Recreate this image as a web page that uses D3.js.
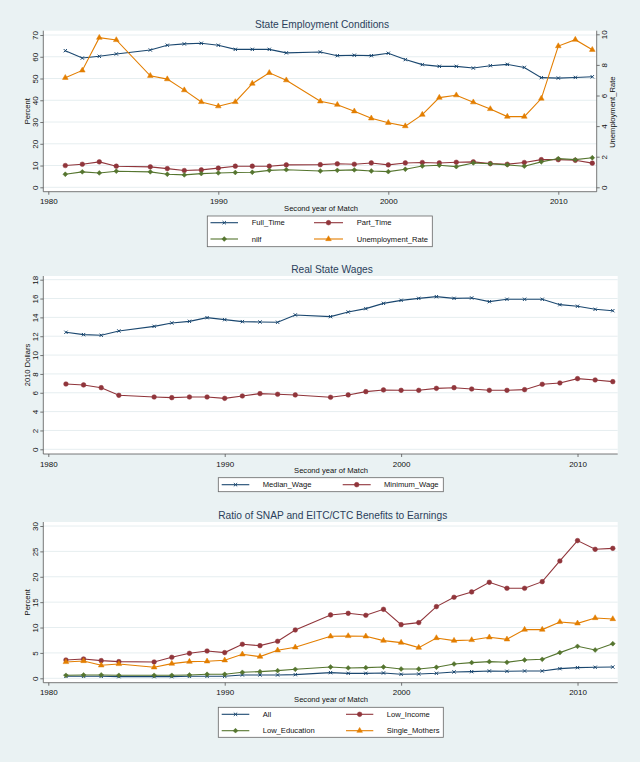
<!DOCTYPE html>
<html>
<head>
<meta charset="utf-8">
<script src="https://cdn.jsdelivr.net/npm/d3@7"></script>
<style>
  body { margin: 0; background: #eaf2f3; }
  svg { display: block; font-family: "Liberation Sans", Arial, sans-serif; }
</style>
</head>
<body>
<svg id="chart" width="640" height="762"></svg>
<script>
// Survey years (no 1985, no 1995).
const years = [1981, 1982, 1983, 1984, 1986, 1987, 1988, 1989, 1990, 1991, 1992, 1993, 1994,
  1996, 1997, 1998, 1999, 2000, 2001, 2002, 2003, 2004, 2005, 2006, 2007, 2008, 2009, 2010, 2011, 2012];
const xTicks = [1980, 1990, 2000, 2010];

// Panel 1 — employment conditions (percent, unemployment on right axis)
const fullTime = [62.8, 59.4, 60.2, 61.3, 63.1, 65.3, 65.9, 66.2, 65.3, 63.4, 63.4, 63.4, 61.8,
  62.2, 60.5, 60.7, 60.5, 61.6, 58.7, 56.4, 55.6, 55.6, 54.8, 55.9, 56.5, 55.1, 50.4, 50.2, 50.5, 50.8];
const partTime = [10.0, 10.6, 11.7, 9.7, 9.4, 8.6, 7.7, 8.0, 8.8, 9.7, 9.7, 9.7, 10.3,
  10.4, 10.8, 10.6, 11.2, 10.3, 11.2, 11.4, 11.2, 11.5, 11.7, 10.9, 10.6, 11.4, 12.7, 12.7, 12.4, 11.1];
const nilf = [6.0, 7.1, 6.6, 7.4, 7.1, 6.0, 5.7, 6.3, 6.6, 6.8, 6.9, 7.8, 8.1,
  7.5, 7.8, 8.0, 7.5, 7.2, 8.3, 9.8, 10.1, 9.5, 11.2, 10.8, 10.3, 9.7, 11.7, 13.2, 12.7, 13.6];
const unempRate = [7.16, 7.64, 9.78, 9.63, 7.29, 7.07, 6.35, 5.58, 5.30, 5.58, 6.78, 7.48, 7.00,
  5.62, 5.40, 4.97, 4.51, 4.22, 4.00, 4.75, 5.86, 6.02, 5.56, 5.12, 4.62, 4.62, 5.80, 9.23, 9.65, 8.99];
const empTicks = [0, 10, 20, 30, 40, 50, 60, 70];
const unempTicks = [0, 2, 4, 6, 8, 10];

// Panel 2 — real wages (2010 dollars)
const medianWage = [12.42, 12.17, 12.10, 12.56, 13.05, 13.41, 13.58, 13.97, 13.76, 13.55, 13.51, 13.48, 14.26,
  14.08, 14.57, 14.93, 15.49, 15.81, 16.02, 16.20, 16.02, 16.06, 15.67, 15.92, 15.92, 15.92, 15.35, 15.18, 14.86, 14.71];
const minimumWage = [6.93, 6.83, 6.54, 5.73, 5.55, 5.48, 5.55, 5.55, 5.41, 5.66, 5.91, 5.84, 5.77,
  5.52, 5.77, 6.12, 6.30, 6.26, 6.26, 6.47, 6.54, 6.40, 6.26, 6.26, 6.33, 6.90, 7.04, 7.50, 7.36, 7.18];
const wageTicks = [0, 2, 4, 6, 8, 10, 12, 14, 16, 18];

// Panel 3 — benefits / earnings ratio (percent)
const allRatio = [0.39, 0.39, 0.39, 0.33, 0.33, 0.33, 0.39, 0.39, 0.39, 0.66, 0.66, 0.66, 0.72,
  1.12, 0.98, 0.98, 1.05, 0.79, 0.85, 0.98, 1.25, 1.31, 1.44, 1.38, 1.44, 1.44, 1.90, 2.10, 2.17, 2.22];
const lowIncome = [3.61, 3.81, 3.48, 3.28, 3.22, 4.14, 4.92, 5.38, 5.06, 6.70, 6.43, 7.29, 9.52,
  12.48, 12.80, 12.41, 13.59, 10.57, 10.97, 14.12, 15.96, 17.01, 18.91, 17.73, 17.73, 19.04, 23.11, 27.12, 25.41, 25.6];
const lowEducation = [0.59, 0.66, 0.66, 0.59, 0.59, 0.59, 0.66, 0.79, 0.79, 1.18, 1.31, 1.51, 1.77,
  2.23, 2.04, 2.10, 2.23, 1.84, 1.84, 2.17, 2.82, 3.09, 3.28, 3.15, 3.61, 3.74, 5.06, 6.30, 5.58, 6.81];
const singleMothers = [3.22, 3.41, 2.56, 2.82, 2.17, 2.89, 3.28, 3.35, 3.55, 4.73, 4.27, 5.52, 6.11,
  8.27, 8.34, 8.27, 7.42, 7.03, 6.04, 7.94, 7.42, 7.55, 8.08, 7.68, 9.59, 9.59, 11.10, 10.83, 11.88, 11.68];
const ratioTicks = [0, 5, 10, 15, 20, 25, 30];

// Stata s2color-ish palette.
const NAVY = '#1a476f', MAROON = '#90353b', GREEN = '#55752f', ORANGE = '#e37e00';

// Marker shapes (custom d3.symbol types).
const symX = { draw(ctx, s) { const r = Math.sqrt(s) / 2; ctx.moveTo(-r, -r); ctx.lineTo(r, r); ctx.moveTo(r, -r); ctx.lineTo(-r, r); } };
const symDiamond = { draw(ctx, s) { const r = Math.sqrt(s) / 1.6; ctx.moveTo(0, -r); ctx.lineTo(r, 0); ctx.lineTo(0, r); ctx.lineTo(-r, 0); ctx.closePath(); } };
const markers = {
  x: { type: symX, size: 11, stroke: true },
  circle: { type: d3.symbolCircle, size: 17 },
  diamond: { type: symDiamond, size: 15 },
  triangle: { type: d3.symbolTriangle, size: 14 }
};

const svg = d3.select('#chart');
svg.append('rect').attr('width', 640).attr('height', 762).attr('fill', '#eaf2f3');

const panels = [
  {
    title: 'State Employment Conditions', titleX: 322, titleY: 27.5,
    box: { x0: 43.3, x1: 596.7, y0: 30.7, y1: 191.7 }, xr: [48.3, 592.3],
    y: { domain: [0, 70], range: [187.3, 35], ticks: empTicks, label: 'Percent' },
    y2: { domain: [0, 10], range: [187.3, 34.3], ticks: unempTicks, label: 'Unemployment_Rate' },
    axisTitleX: 321,
    series: [
      { name: 'Full_Time', values: fullTime, color: NAVY, marker: 'x' },
      { name: 'Part_Time', values: partTime, color: MAROON, marker: 'circle' },
      { name: 'nilf', values: nilf, color: GREEN, marker: 'diamond' },
      { name: 'Unemployment_Rate', values: unempRate, color: ORANGE, marker: 'triangle', right: true }
    ],
    legend: { x0: 207.3, x1: 432.3, y0: 216, y1: 246.7, rows: [222.7, 239],
      keys: [[210.5, 238], [314, 343]], texts: [251.7, 356.7] }
  },
  {
    title: 'Real State Wages', titleX: 332, titleY: 273,
    box: { x0: 43.3, x1: 617.7, y0: 276, y1: 454 }, xr: [48.3, 612.8],
    y: { domain: [0, 18], range: [449.3, 279.7], ticks: wageTicks, label: '2010 Dollars' },
    axisTitleX: 331,
    series: [
      { name: 'Median_Wage', values: medianWage, color: NAVY, marker: 'x' },
      { name: 'Minimum_Wage', values: minimumWage, color: MAROON, marker: 'circle' }
    ],
    legend: { x0: 218.3, x1: 443.3, y0: 477.7, y1: 491.7, rows: [484.7],
      keys: [[221.7, 249.3], [342.7, 370.7]], texts: [262.7, 384] }
  },
  {
    title: 'Ratio of SNAP and EITC/CTC Benefits to Earnings', titleX: 332.7, titleY: 519,
    box: { x0: 43.3, x1: 617.7, y0: 522, y1: 682.7 }, xr: [48.3, 612.8],
    y: { domain: [0, 30], range: [678.3, 526], ticks: ratioTicks, label: 'Percent' },
    axisTitleX: 331,
    series: [
      { name: 'All', values: allRatio, color: NAVY, marker: 'x' },
      { name: 'Low_Income', values: lowIncome, color: MAROON, marker: 'circle' },
      { name: 'Low_Education', values: lowEducation, color: GREEN, marker: 'diamond' },
      { name: 'Single_Mothers', values: singleMothers, color: ORANGE, marker: 'triangle' }
    ],
    legend: { x0: 218.3, x1: 443.3, y0: 707.3, y1: 737.3, rows: [714.3, 730.7],
      keys: [[221.7, 249.3], [346, 373.3]], texts: [262.7, 386.7] }
  }
];

function drawMarker(sel, m, color) {
  const spec = markers[m];
  sel.attr('d', d3.symbol().type(spec.type).size(spec.size)());
  if (spec.stroke) sel.attr('fill', 'none').attr('stroke', color).attr('stroke-width', 1);
  else sel.attr('fill', color).attr('stroke', color).attr('stroke-width', 0.5);
}

function drawPanel(p) {
  const g = svg.append('g');
  const b = p.box;
  const x = d3.scaleLinear().domain([1980, 2012]).range(p.xr);
  const y = d3.scaleLinear().domain(p.y.domain).range(p.y.range);
  const y2 = p.y2 ? d3.scaleLinear().domain(p.y2.domain).range(p.y2.range) : null;

  // Plot region + grid
  g.append('rect').attr('x', b.x0).attr('y', b.y0)
    .attr('width', b.x1 - b.x0).attr('height', b.y1 - b.y0).attr('fill', '#fff');
  g.append('g').selectAll('line').data(p.y.ticks).join('line')
    .attr('x1', b.x0).attr('x2', b.x1)
    .attr('y1', (d) => y(d)).attr('y2', (d) => y(d))
    .attr('stroke', '#e6eef0').attr('stroke-width', 1);

  // Title
  g.append('text').attr('x', p.titleX).attr('y', p.titleY)
    .attr('text-anchor', 'middle').attr('font-size', 10.2).attr('fill', '#2b3f5c')
    .text(p.title);

  // Axes
  const styleAxis = (ax) => {
    ax.select('.domain').remove();
    ax.selectAll('.tick line').attr('stroke', '#555').attr('stroke-width', 0.8);
    ax.selectAll('.tick text').attr('fill', '#111').attr('font-size', 8);
  };

  const ax = g.append('g').attr('transform', `translate(0,${b.y1})`)
    .call(d3.axisBottom(x).tickValues(xTicks).tickSize(3).tickSizeOuter(0).tickFormat(d3.format('d')));
  styleAxis(ax);
  ax.selectAll('.tick text').attr('y', 12.7).attr('dy', null);

  const ay = g.append('g').attr('transform', `translate(${b.x0},0)`)
    .call(d3.axisLeft(y).tickValues(p.y.ticks).tickSize(3).tickSizeOuter(0).tickFormat(d3.format('d')));
  styleAxis(ay);
  ay.selectAll('.tick text').attr('x', null).attr('dy', null)
    .attr('text-anchor', 'middle').attr('transform', 'translate(-5.8,0) rotate(-90)');

  if (y2) {
    const ay2 = g.append('g').attr('transform', `translate(${b.x1},0)`)
      .call(d3.axisRight(y2).tickValues(p.y2.ticks).tickSize(3).tickSizeOuter(0).tickFormat(d3.format('d')));
    styleAxis(ay2);
    ay2.selectAll('.tick text').attr('x', null).attr('dy', null)
      .attr('text-anchor', 'middle').attr('transform', 'translate(10.6,0) rotate(-90)');
    g.append('text').attr('transform', `translate(615,${(b.y0 + b.y1) / 2 + 1}) rotate(-90)`)
      .attr('text-anchor', 'middle').attr('font-size', 7.6).attr('fill', '#111').text(p.y2.label);
  }

  // Axis lines along the plot region edges
  g.append('line').attr('x1', b.x0).attr('x2', b.x1).attr('y1', b.y1).attr('y2', b.y1)
    .attr('stroke', '#555').attr('stroke-width', 0.8);
  g.append('line').attr('x1', b.x0).attr('x2', b.x0).attr('y1', b.y0).attr('y2', b.y1)
    .attr('stroke', '#555').attr('stroke-width', 0.8);
  if (y2) g.append('line').attr('x1', b.x1).attr('x2', b.x1).attr('y1', b.y0).attr('y2', b.y1)
    .attr('stroke', '#555').attr('stroke-width', 0.8);

  // Axis titles
  g.append('text').attr('transform', `translate(30,${(b.y0 + b.y1) / 2}) rotate(-90)`)
    .attr('text-anchor', 'middle').attr('font-size', 7.6).attr('fill', '#111').text(p.y.label);
  g.append('text').attr('x', p.axisTitleX).attr('y', b.y1 + 19.2)
    .attr('text-anchor', 'middle').attr('font-size', 7.6).attr('fill', '#111').text('Second year of Match');

  // Series
  p.series.forEach((s) => {
    const ys = s.right ? y2 : y;
    const pts = years.map((yr, i) => [yr, s.values[i]]);
    g.append('path').datum(pts)
      .attr('fill', 'none').attr('stroke', s.color).attr('stroke-width', 1.1)
      .attr('d', d3.line().x((d) => x(d[0])).y((d) => ys(d[1])));
    g.append('g').selectAll('path').data(pts).join('path')
      .attr('transform', (d) => `translate(${x(d[0])},${ys(d[1])})`)
      .call(drawMarker, s.marker, s.color);
  });

  // Legend
  const L = p.legend;
  g.append('rect').attr('x', L.x0).attr('y', L.y0)
    .attr('width', L.x1 - L.x0).attr('height', L.y1 - L.y0)
    .attr('fill', '#fff').attr('stroke', '#666').attr('stroke-width', 0.8);
  p.series.forEach((s, i) => {
    const row = L.rows[Math.floor(i / 2)];
    const col = i % 2;
    const [k0, k1] = L.keys[col];
    g.append('line').attr('x1', k0).attr('x2', k1).attr('y1', row).attr('y2', row)
      .attr('stroke', s.color).attr('stroke-width', 1.1);
    g.append('path').attr('transform', `translate(${(k0 + k1) / 2},${row})`)
      .call(drawMarker, s.marker, s.color);
    g.append('text').attr('x', L.texts[col]).attr('y', row + 2.7)
      .attr('font-size', 7.6).attr('fill', '#111').text(s.name);
  });
}

panels.forEach(drawPanel);
</script>
</body>
</html>
